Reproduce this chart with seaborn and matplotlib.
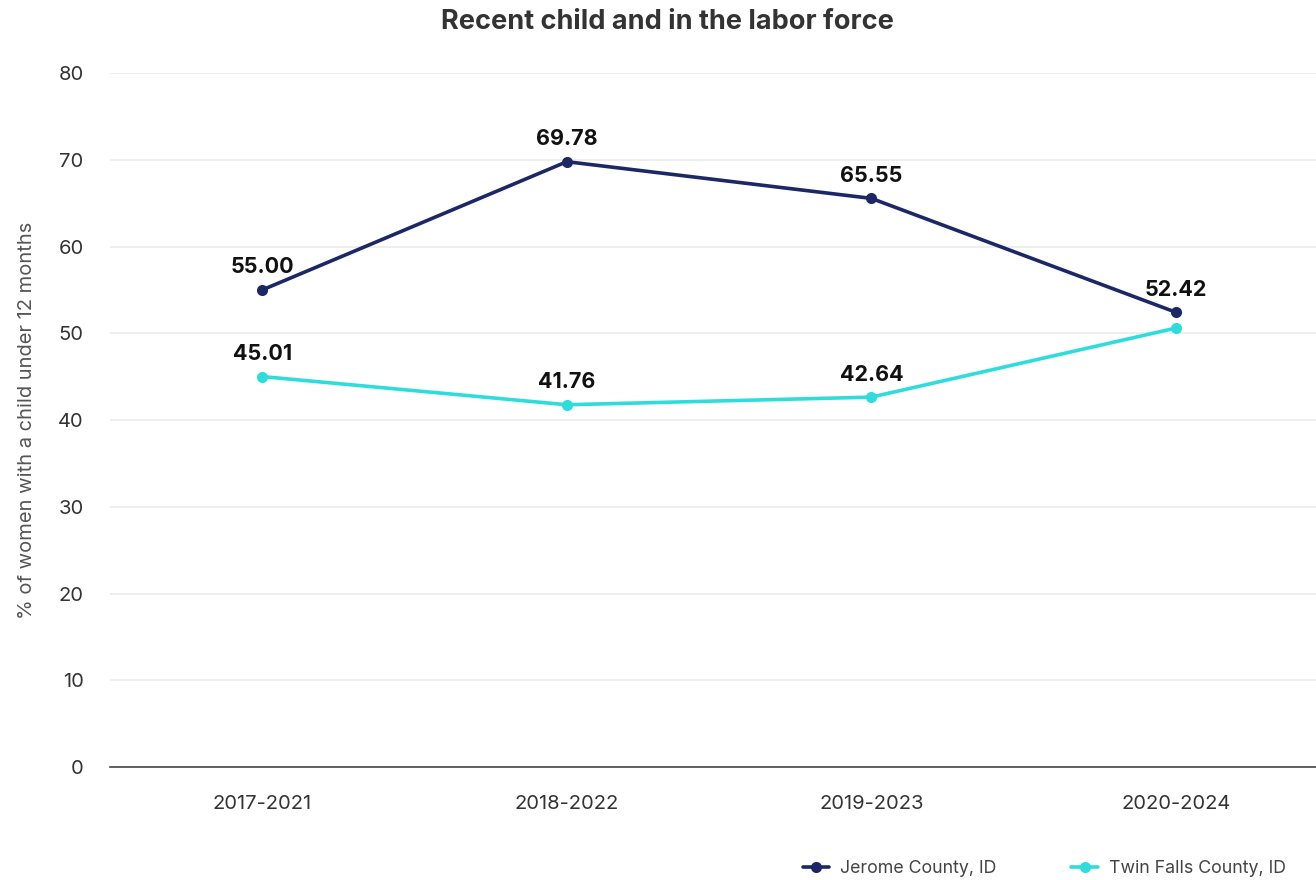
import matplotlib
matplotlib.use("Agg")
import matplotlib.pyplot as plt
import seaborn as sns
import pandas as pd

# Chart data
periods = ["2017-2021", "2018-2022", "2019-2023", "2020-2024"]
jerome = [55.00, 69.78, 65.55, 52.42]
twin_falls = [45.01, 41.76, 42.64, 50.6]
series_names = ["Jerome County, ID", "Twin Falls County, ID"]
series_colors = ["#1c2766", "#2fdcdc"]
# Which points carry a value label (Twin Falls 2020-2024 is unlabeled)
jerome_labeled = [True, True, True, True]
twin_labeled = [True, True, True, False]

df = pd.DataFrame({
    "period": periods * 2,
    "x": list(range(len(periods))) * 2,
    "value": jerome + twin_falls,
    "series": [series_names[0]] * 4 + [series_names[1]] * 4,
    "labeled": jerome_labeled + twin_labeled,
})

sns.set_theme(style="white")
plt.rcParams["font.family"] = ["Inter", "DejaVu Sans"]

fig = plt.figure(figsize=(13.16, 8.8), dpi=100)
ax = fig.add_axes([0.0836, 0.1284, 0.9164, 0.7886])

sns.lineplot(
    data=df, x="x", y="value", hue="series",
    palette=dict(zip(series_names, series_colors)),
    marker="o", markersize=8, markeredgewidth=0, linewidth=2.6,
    ax=ax, legend=True,
)

for _, row in df.iterrows():
    if row["labeled"]:
        ax.annotate(f"{row['value']:.2f}", (row["x"], row["value"]),
                    xytext=(0, 9), textcoords="offset points",
                    ha="center", va="bottom", fontsize=15.5, fontweight="bold",
                    color="#111111")

ax.set_xlim(-0.5, 3.46)
ax.set_ylim(0, 80)
ax.set_yticks(range(0, 81, 10))
ax.set_xticks(range(len(periods)))
ax.set_xticklabels(periods)
ax.tick_params(axis="both", length=0, labelsize=14.5, colors="#333333")
ax.tick_params(axis="y", pad=19)
ax.tick_params(axis="x", pad=20)
ax.grid(axis="y", color="#ebebeb", linewidth=1.2)
ax.set_axisbelow(True)
for side in ["top", "right", "left"]:
    ax.spines[side].set_visible(False)
ax.spines["bottom"].set_color("#444444")
ax.spines["bottom"].set_linewidth(1.2)

ax.set_xlabel("")
ax.set_ylabel("% of women with a child under 12 months", fontsize=14.5,
              color="#555555")
ax.yaxis.set_label_coords(-0.061, 0.5)

fig.suptitle("Recent child and in the labor force", x=0.507, y=0.975,
             fontsize=19.5, fontweight="bold", color="#333333", va="center")

handles, labels = ax.get_legend_handles_labels()
ax.legend(handles, labels, loc="lower right", bbox_to_anchor=(0.988, -0.182),
          ncol=2, frameon=False, fontsize=12.8, columnspacing=4.2,
          handlelength=1.5, handletextpad=0.6, labelcolor="#444444")

fig.savefig("out.png", dpi=100)
